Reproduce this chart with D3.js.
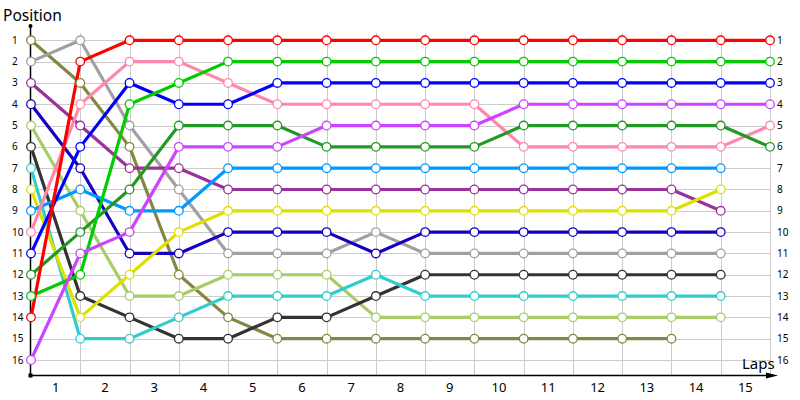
<!DOCTYPE html>
<html>
<head>
<meta charset="utf-8">
<script src="https://cdn.jsdelivr.net/npm/d3@7"></script>
<style>
  html, body { margin: 0; padding: 0; background: #fff; }
  svg { display: block; font-family: "Noto Sans", "DejaVu Sans", sans-serif; }
</style>
</head>
<body>
<svg id="chart" width="800" height="400"></svg>
<script>
// ---- data: position of each car at laps 0..N (array ends when the car stops) ----
const laps = d3.range(0, 16);                 // lap indices 0..15
const lapLabels = d3.range(1, 16);            // tick labels 1..15 (between grid lines)
const positionLabels = d3.range(1, 17);       // 1..16

const redCar       = [14, 2, 1, 1, 1, 1, 1, 1, 1, 1, 1, 1, 1, 1, 1, 1];
const greenCar     = [13, 12, 4, 3, 2, 2, 2, 2, 2, 2, 2, 2, 2, 2, 2, 2];
const blueCar      = [11, 6, 3, 4, 4, 3, 3, 3, 3, 3, 3, 3, 3, 3, 3, 3];
const magentaCar   = [16, 11, 10, 6, 6, 6, 5, 5, 5, 5, 4, 4, 4, 4, 4, 4];
const pinkCar      = [10, 4, 2, 2, 3, 4, 4, 4, 4, 4, 6, 6, 6, 6, 6, 5];
const darkGreenCar = [12, 10, 8, 5, 5, 5, 6, 6, 6, 6, 5, 5, 5, 5, 5, 6];
const skyBlueCar   = [9, 8, 9, 9, 7, 7, 7, 7, 7, 7, 7, 7, 7, 7, 7];
const purpleCar    = [3, 5, 7, 7, 8, 8, 8, 8, 8, 8, 8, 8, 8, 8, 9];
const yellowCar    = [8, 14, 12, 10, 9, 9, 9, 9, 9, 9, 9, 9, 9, 9, 8];
const darkBlueCar  = [4, 7, 11, 11, 10, 10, 10, 11, 10, 10, 10, 10, 10, 10, 10];
const grayCar      = [2, 1, 5, 8, 11, 11, 11, 10, 11, 11, 11, 11, 11, 11, 11];
const blackCar     = [6, 13, 14, 15, 15, 14, 14, 13, 12, 12, 12, 12, 12, 12, 12];
const cyanCar      = [7, 15, 15, 14, 13, 13, 13, 12, 13, 13, 13, 13, 13, 13, 13];
const lightGreenCar= [5, 9, 13, 13, 12, 12, 12, 14, 14, 14, 14, 14, 14, 14, 14];
const oliveCar     = [1, 3, 6, 12, 14, 15, 15, 15, 15, 15, 15, 15, 15, 15];

const seriesData = [oliveCar, grayCar, purpleCar, darkBlueCar, lightGreenCar, blackCar,
  cyanCar, yellowCar, skyBlueCar, pinkCar, blueCar, darkGreenCar, greenCar, redCar, magentaCar];
const seriesColors = ["#868642", "#a0a0a0", "#993399", "#1400c0", "#a8cc66", "#333333",
  "#33cccc", "#e0e000", "#0099ff", "#ff88aa", "#0000ff", "#229922", "#00cc00", "#ff0000", "#cc44ff"];

// ---- layout ----
const svg = d3.select("#chart");
const x = d3.scaleLinear().domain([0, 15]).range([31, 770]);
const y = d3.scaleLinear().domain([1, 16]).range([40.3, 360]);
const axisY = 375.5;
const gridTop = 33;

// grid
const grid = svg.append("g").attr("stroke", "#cccccc").attr("stroke-width", 1).attr("shape-rendering", "crispEdges");
grid.selectAll("line.h").data(positionLabels).join("line")
  .attr("x1", x(0)).attr("x2", x(15))
  .attr("y1", d => Math.round(y(d)) + 0.5).attr("y2", d => Math.round(y(d)) + 0.5);
grid.selectAll("line.v").data(laps.slice(1)).join("line")
  .attr("x1", d => Math.round(x(d)) + 0.5).attr("x2", d => Math.round(x(d)) + 0.5)
  .attr("y1", gridTop).attr("y2", axisY);

// axes
svg.append("line").attr("x1", 30.5).attr("x2", 30.5).attr("y1", 26).attr("y2", axisY)
  .attr("stroke", "#000").attr("stroke-width", 1.5);
svg.append("line").attr("x1", 30).attr("x2", 770).attr("y1", axisY).attr("y2", axisY)
  .attr("stroke", "#000").attr("stroke-width", 1.5);
svg.append("circle").attr("cx", 30.5).attr("cy", 26).attr("r", 2).attr("fill", "#000");
svg.append("rect").attr("x", 28.5).attr("y", axisY - 2).attr("width", 4).attr("height", 4).attr("fill", "#000");
svg.append("path").attr("d", `M766,${axisY - 3} L778,${axisY} L766,${axisY + 3} Z`).attr("fill", "#000");

// axis labels
svg.selectAll("text.yl").data(positionLabels).join("text")
  .attr("x", 12).attr("y", d => y(d)).attr("dy", "0.35em")
  .attr("font-size", 10).attr("fill", "#000").text(d => d);
svg.selectAll("text.yr").data(positionLabels).join("text")
  .attr("x", 777).attr("y", d => y(d)).attr("dy", "0.35em")
  .attr("font-size", 10).attr("fill", "#000").text(d => d);
svg.selectAll("text.xl").data(lapLabels).join("text")
  .attr("x", d => x(d - 0.5)).attr("y", 392).attr("text-anchor", "middle")
  .attr("font-size", 13).attr("fill", "#000").text(d => d);

svg.append("text").attr("x", 3).attr("y", 21).attr("font-size", 15.5).attr("fill", "#000").text("Position");
svg.append("text").attr("x", 742).attr("y", 369).attr("font-size", 15).attr("fill", "#000").text("Laps");

// series
const line = d3.line().x((d, i) => x(i)).y(d => y(d));
const series = seriesData.map((vals, k) => ({ vals, color: seriesColors[k] }));

svg.append("g").selectAll("path").data(series).join("path")
  .attr("d", d => line(d.vals))
  .attr("fill", "none").attr("stroke", d => d.color).attr("stroke-width", 3.2)
  .attr("stroke-linejoin", "round");

const pts = svg.append("g");
series.forEach(s => {
  pts.selectAll(null).data(s.vals).join("circle")
    .attr("cx", (d, i) => x(i)).attr("cy", d => y(d)).attr("r", 4.3)
    .attr("fill", "#fff").attr("stroke", s.color).attr("stroke-width", 1.3);
});
</script>
</body>
</html>
